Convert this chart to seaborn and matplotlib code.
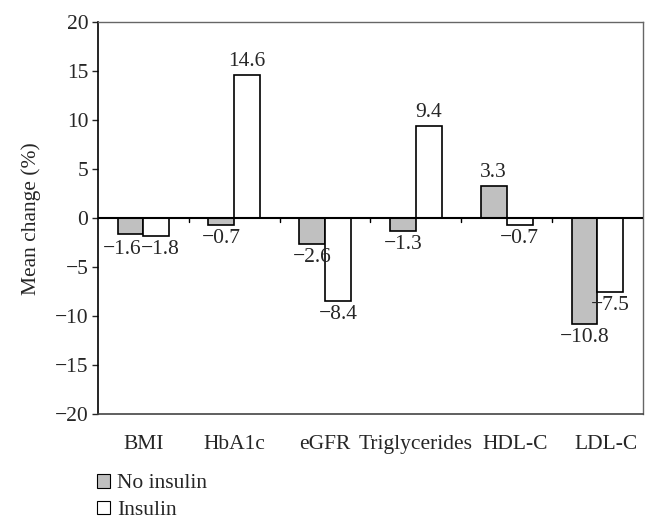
import pandas as pd
import matplotlib.pyplot as plt
import matplotlib.transforms as mtransforms
import seaborn as sns
from matplotlib.patches import Patch

# Data
categories = ['BMI', 'HbA1c', 'eGFR', 'Triglycerides', 'HDL-C', 'LDL-C']
no_insulin = [-1.6, -0.7, -2.6, -1.3, 3.3, -10.8]
insulin = [-1.8, 14.6, -8.4, 9.4, -0.7, -7.5]
groups = ['No insulin', 'Insulin']
y_ticks = [-20, -15, -10, -5, 0, 5, 10, 15, 20]

df = pd.DataFrame({
    'Measure': categories * 2,
    'Group': [groups[0]] * len(categories) + [groups[1]] * len(categories),
    'Change': no_insulin + insulin,
})

fs = 15.5
sns.set_style('white')
plt.rcParams['font.family'] = ['Liberation Serif', 'DejaVu Serif']
plt.rcParams['font.size'] = fs

fig = plt.figure(figsize=(6.58, 5.29), dpi=100)
ax = fig.add_axes([0.149, 0.217, 0.828, 0.741])

palette = {'No insulin': '#c0c0c0', 'Insulin': '#ffffff'}
sns.barplot(data=df, x='Measure', y='Change', hue='Group', order=categories,
            hue_order=groups, palette=palette, width=0.57, gap=0,
            edgecolor='black', linewidth=1.2, saturation=1, legend=False, ax=ax)

# value labels outside the bar ends
label_sets = []
for cont, vals in zip(ax.containers, [no_insulin, insulin]):
    labs = [f'{v:.1f}'.replace('-', '\u2212') for v in vals]
    label_sets.append(ax.bar_label(cont, labels=labs, padding=3, fontsize=fs))

# BMI labels sit side by side in the original, nudge them apart
label_sets[0][0].xyann = (-6, -4.4)
label_sets[1][0].xyann = (3, -3)

ax.axhline(0, color='black', lw=1.5, zorder=3)
# small ticks on the zero line between categories
for b in range(1, len(categories)):
    ax.plot([b - 0.5, b - 0.5], [0, -0.35], color='black', lw=1, zorder=3)

ax.set_ylim(-20, 20)
ax.set_xlim(-0.5, len(categories) - 0.5)
ax.set_yticks(y_ticks)
ax.set_xlabel('')
ax.set_ylabel('Mean change (%)', fontsize=fs, labelpad=10)
ax.tick_params(axis='y', direction='out', length=4, width=1, pad=3, left=True, labelsize=fs)
ax.tick_params(axis='x', length=0, pad=15, labelsize=fs)

# last two category labels sit a little to the right in the original
for lab in ax.get_xticklabels()[4:]:
    lab.set_transform(lab.get_transform() +
                      mtransforms.ScaledTranslation(6 / 72, 0, fig.dpi_scale_trans))

ax.spines['left'].set_color('black')
ax.spines['left'].set_linewidth(1.2)
for s in ['top', 'right']:
    ax.spines[s].set_color('#666666')
    ax.spines[s].set_linewidth(1.0)
ax.spines['bottom'].set_color('#444444')
ax.spines['bottom'].set_linewidth(1.2)

handles = [Patch(facecolor=palette[g], edgecolor='black', linewidth=0.8, label=g) for g in groups]
fig.legend(handles=handles, loc='upper left', bbox_to_anchor=(0.148, 0.104),
           frameon=False, handlelength=0.6, handleheight=0.6, handletextpad=0.3,
           labelspacing=0.33, borderaxespad=0, borderpad=0, fontsize=fs)

fig.savefig('out.png', dpi=100)
